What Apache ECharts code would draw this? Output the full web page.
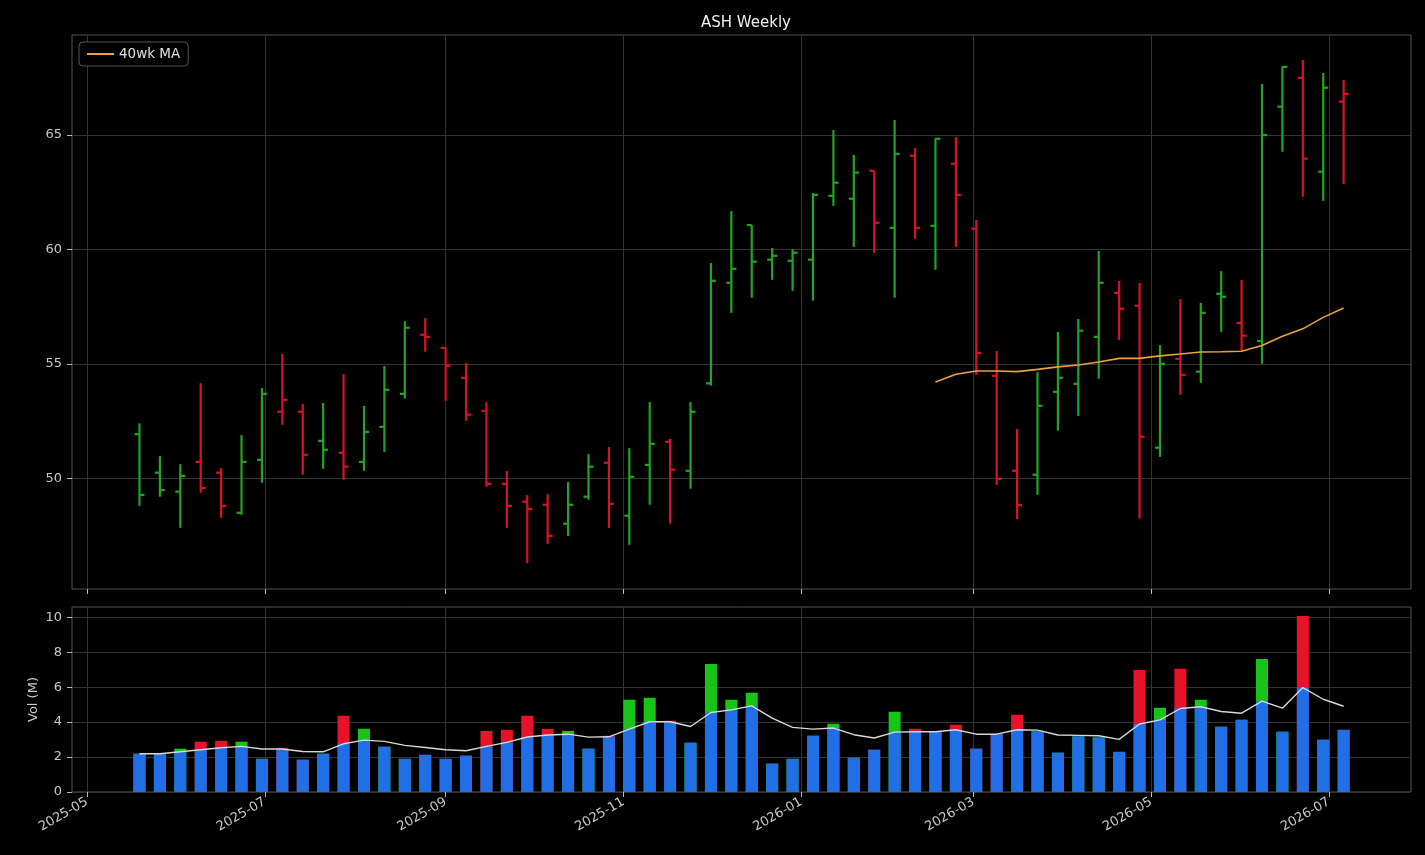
<!DOCTYPE html>
<html>
<head>
<meta charset="utf-8">
<script src="https://cdn.jsdelivr.net/npm/echarts@6/dist/echarts.min.js"></script>
<style>
html,body{margin:0;padding:0;background:#000;}
#chart{width:1425px;height:855px;}
</style>
</head>
<body>
<div id="chart"></div>
<script>
const dates = ['2025-05-19','2025-05-26','2025-06-02','2025-06-09','2025-06-16','2025-06-23','2025-06-30','2025-07-07','2025-07-14','2025-07-21',
'2025-07-28','2025-08-04','2025-08-11','2025-08-18','2025-08-25','2025-09-01','2025-09-08','2025-09-15','2025-09-22','2025-09-29',
'2025-10-06','2025-10-13','2025-10-20','2025-10-27','2025-11-03','2025-11-10','2025-11-17','2025-11-24','2025-12-01','2025-12-08',
'2025-12-15','2025-12-22','2025-12-29','2026-01-05','2026-01-12','2026-01-19','2026-01-26','2026-02-02','2026-02-09','2026-02-16',
'2026-02-23','2026-03-02','2026-03-09','2026-03-16','2026-03-23','2026-03-30','2026-04-06','2026-04-13','2026-04-20','2026-04-27',
'2026-05-04','2026-05-11','2026-05-18','2026-05-25','2026-06-01','2026-06-08','2026-06-15','2026-06-22','2026-06-29','2026-07-06'];

const openP = [51.93,50.25,49.42,50.72,50.25,48.50,50.81,52.91,52.91,51.64,
51.12,50.72,52.25,53.69,56.27,55.70,54.39,52.95,49.76,48.98,
48.85,48.02,49.20,50.68,48.37,50.59,51.60,50.33,54.15,58.54,
61.06,59.55,59.50,59.55,62.34,62.21,63.43,60.94,64.09,61.03,
63.74,60.90,54.48,50.33,50.16,53.78,54.13,56.18,58.10,57.54,
51.34,55.22,54.66,58.06,56.79,56.00,66.23,67.49,63.39,66.45];
const highP = [52.40,50.97,50.62,54.16,50.45,51.89,53.94,55.43,53.24,53.29,
54.55,53.16,54.90,56.87,57.00,55.70,55.03,53.33,50.32,49.27,
49.31,49.84,51.06,51.37,51.32,53.33,51.72,53.33,59.40,61.67,
61.06,60.06,60.01,62.46,65.21,64.12,63.43,65.65,64.42,64.85,
64.90,61.28,55.56,52.15,54.64,56.39,56.96,59.93,58.62,58.53,
55.82,57.83,57.66,59.05,58.66,67.22,68.00,68.27,67.70,67.39];
const lowP = [48.80,49.20,47.84,49.37,48.28,48.41,49.81,52.34,50.16,50.42,
49.94,50.33,51.16,53.48,55.53,53.39,52.52,49.63,47.84,46.30,
47.14,47.49,49.07,47.84,47.10,48.85,48.02,49.55,54.05,57.23,
57.89,58.67,58.19,57.76,61.90,60.11,59.85,57.89,60.46,59.11,
60.11,54.52,49.72,48.22,49.28,52.08,52.73,54.35,56.05,48.24,
50.94,53.65,54.17,56.40,55.57,55.00,64.26,62.30,62.12,62.86];
const closeP = [49.28,49.49,50.11,49.58,48.80,50.72,53.69,53.43,51.03,51.25,
50.51,52.03,53.87,56.58,56.18,54.92,52.78,49.76,48.80,48.67,
47.49,48.85,50.51,48.89,50.07,51.51,50.38,52.91,58.63,59.15,
59.46,59.72,59.85,62.38,62.91,63.35,61.16,64.17,60.94,64.83,
62.38,55.48,49.98,48.83,53.17,54.39,56.45,58.54,57.41,51.82,
55.00,54.52,57.23,57.93,56.23,64.99,67.97,63.96,67.06,66.79];
const ma40 = [null,null,null,null,null,null,null,null,null,null,
null,null,null,null,null,null,null,null,null,null,
null,null,null,null,null,null,null,null,null,null,
null,null,null,null,null,null,null,null,null,54.21,
54.55,54.69,54.69,54.66,54.76,54.87,54.95,55.08,55.24,55.24,
55.35,55.43,55.52,55.53,55.55,55.80,56.21,56.53,57.03,57.44];
const volume = [2.19,2.19,2.48,2.88,2.93,2.88,1.90,2.53,1.85,2.19,
4.36,3.62,2.59,1.90,2.13,1.90,2.08,3.50,3.56,4.36,
3.62,3.50,2.48,3.22,5.28,5.39,4.08,2.82,7.33,5.28,
5.68,1.62,1.90,3.22,3.90,1.96,2.42,4.59,3.62,3.45,
3.85,2.48,3.33,4.42,3.47,2.25,3.18,3.12,2.30,6.99,
4.82,7.05,5.28,3.73,4.13,7.62,3.45,10.08,2.99,3.56];
const volMA = [2.19,2.19,2.30,2.42,2.53,2.61,2.46,2.46,2.32,2.30,
2.76,2.97,2.90,2.67,2.55,2.42,2.36,2.61,2.84,3.15,
3.26,3.31,3.14,3.16,3.60,4.02,4.02,3.75,4.55,4.70,
4.93,4.23,3.70,3.60,3.66,3.28,3.09,3.43,3.45,3.45,
3.56,3.31,3.31,3.56,3.54,3.26,3.24,3.22,3.01,3.89,
4.13,4.78,4.88,4.61,4.51,5.20,4.80,5.98,5.31,4.91];
const xTickLabels = ['2025-05','2025-07','2025-09','2025-11','2026-01','2026-03','2026-05','2026-07'];
const priceTicks = [50,55,60,65];
const volTicks = [0,2,4,6,8,10];

const DAY = 86400000;
const ts = d => { const p = d.split('-').map(Number); return Date.UTC(p[0], p[1]-1, p[2] || 1); };
const t = dates.map(ts);
const xTickVals = xTickLabels.map(ts);
const base = ts('2025-05-01');
const xMin = base - 5.14 * DAY;
const xMax = base + 454.1 * DAY;
const fmt = v => { const d = new Date(v); return d.getUTCFullYear() + '-' + String(d.getUTCMonth()+1).padStart(2,'0'); };

const PG = '#22a522', PR = '#d8122a';
const VG = '#17c417', VR = '#e8122a', VB = '#206fe6';
const up = closeP.map((c,i) => i === 0 ? true : c >= closeP[i-1]);

const ohlcData = t.map((x,i) => [x, openP[i], closeP[i], lowP[i], highP[i], up[i] ? 1 : 0]);
const volData = t.map((x,i) => ({value:[x, volume[i]], itemStyle:{color: up[i] ? VG : VR}}));
const blueData = t.map((x,i) => [x, Math.min(volume[i], volMA[i])]);

const gridCol = '#333';
const labCol = '#c8c8c8';
const font = 'DejaVu Sans';

const xAxisCommon = {
  type: 'value', min: xMin, max: xMax,
  axisLine: {show: false},
  axisTick: {show: true, length: 5, lineStyle:{color:'#bbb'}, customValues: xTickVals},
  splitLine: {show: true, lineStyle:{color: gridCol, width: 1}}
};

const chart = echarts.init(document.getElementById('chart'), null, {renderer:'canvas'});
chart.setOption({
  backgroundColor: '#000',
  animation: false,
  title: {text: 'ASH Weekly', left: 741, top: 11, textAlign: 'center',
    textStyle: {color: '#f0f0f0', fontSize: 15, fontWeight: 'normal', fontFamily: font}},
  legend: {
    left: 79, top: 42, padding: [5, 8], itemWidth: 27, itemHeight: 2, itemGap: 8,
    borderColor: '#555', borderWidth: 1, borderRadius: 4, backgroundColor: '#000',
    textStyle: {color: '#e0e0e0', fontSize: 13.5, fontFamily: font},
    data: [{name: '40wk MA', icon: 'rect'}]
  },
  grid: [
    {left: 72, right: 14, top: 35, height: 554, show: true, borderColor: '#555', borderWidth: 1, backgroundColor: 'transparent'},
    {left: 72, right: 14, top: 607, height: 185, show: true, borderColor: '#555', borderWidth: 1, backgroundColor: 'transparent'}
  ],
  xAxis: [
    Object.assign({gridIndex: 0, axisLabel: {show: false, customValues: xTickVals}}, xAxisCommon),
    Object.assign({gridIndex: 1, axisLabel: {show: true, customValues: xTickVals, formatter: fmt, rotate: 30, margin: 9,
      color: labCol, fontSize: 13, fontFamily: font}}, xAxisCommon)
  ],
  yAxis: [
    {gridIndex: 0, type: 'value', min: 45.17, max: 69.36, scale: true,
      axisLine: {show: false},
      axisTick: {show: true, length: 5, lineStyle:{color:'#bbb'}, customValues: priceTicks},
      axisLabel: {color: labCol, fontSize: 13, fontFamily: font, margin: 10, customValues: priceTicks},
      splitLine: {show: true, lineStyle: {color: gridCol}}},
    {gridIndex: 1, type: 'value', min: 0, max: 10.59,
      name: 'Vol (M)', nameLocation: 'middle', nameGap: 32, nameRotate: 90, nameMoveOverlap: false,
      nameTextStyle: {color: labCol, fontSize: 13, fontFamily: font},
      axisLine: {show: false},
      axisTick: {show: true, length: 5, lineStyle:{color:'#bbb'}, customValues: volTicks},
      axisLabel: {color: labCol, fontSize: 13, fontFamily: font, margin: 10, customValues: volTicks},
      splitLine: {show: true, lineStyle: {color: gridCol}}}
  ],
  series: [
    {
      type: 'custom', name: 'OHLC', xAxisIndex: 0, yAxisIndex: 0,
      data: ohlcData,
      encode: {x: 0, y: [1, 2, 3, 4]},
      renderItem: function (params, api) {
        const x = api.value(0);
        const o = api.coord([x, api.value(1)]);
        const c = api.coord([x, api.value(2)]);
        const l = api.coord([x, api.value(3)]);
        const h = api.coord([x, api.value(4)]);
        const col = api.value(5) ? PG : PR;
        const st = {stroke: col, lineWidth: 2.2};
        return {type: 'group', children: [
          {type: 'line', shape: {x1: h[0], y1: h[1], x2: l[0], y2: l[1]}, style: st},
          {type: 'line', shape: {x1: o[0] - 5, y1: o[1], x2: o[0], y2: o[1]}, style: st},
          {type: 'line', shape: {x1: c[0], y1: c[1], x2: c[0] + 5, y2: c[1]}, style: st}
        ]};
      }
    },
    {
      type: 'line', name: '40wk MA', xAxisIndex: 0, yAxisIndex: 0,
      data: t.map((x,i) => [x, ma40[i]]), connectNulls: false,
      symbol: 'none', showSymbol: false, color: '#e8a33d',
      lineStyle: {color: '#e8a33d', width: 1.6}, z: 5
    },
    {
      type: 'bar', name: 'Volume', xAxisIndex: 1, yAxisIndex: 1,
      data: volData, barWidth: 12, barGap: '-100%'
    },
    {
      type: 'bar', name: 'VolBase', xAxisIndex: 1, yAxisIndex: 1,
      data: blueData, barWidth: 12, barGap: '-100%', itemStyle: {color: VB}
    },
    {
      type: 'line', name: 'Vol MA', xAxisIndex: 1, yAxisIndex: 1,
      data: t.map((x,i) => [x, volMA[i]]),
      symbol: 'none', showSymbol: false,
      lineStyle: {color: '#d8d8d8', width: 1.4}, z: 5
    }
  ]
});
</script>
</body>
</html>
